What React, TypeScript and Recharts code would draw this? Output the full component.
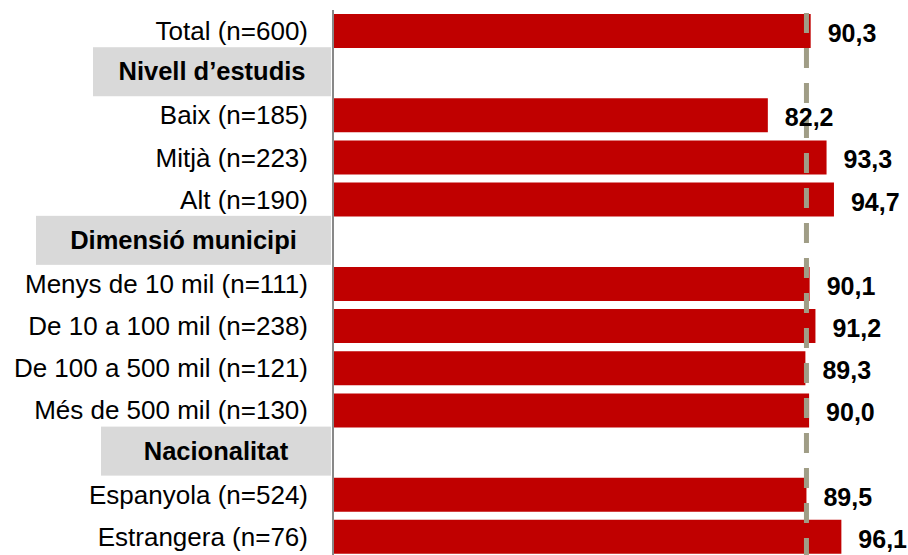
import { BarChart, Bar, XAxis, YAxis, ReferenceLine, LabelList } from "recharts";

const categories = [
  "Total (n=600)",
  "Nivell d’estudis",
  "Baix (n=185)",
  "Mitjà (n=223)",
  "Alt (n=190)",
  "Dimensió municipi",
  "Menys de 10 mil (n=111)",
  "De 10 a 100 mil (n=238)",
  "De 100 a 500 mil (n=121)",
  "Més de 500 mil (n=130)",
  "Nacionalitat",
  "Espanyola (n=524)",
  "Estrangera (n=76)",
];
const values: (number | null)[] = [90.3, null, 82.2, 93.3, 94.7, null, 90.1, 91.2, 89.3, 90.0, null, 89.5, 96.1];
const headers = ["Nivell d’estudis", "Dimensió municipi", "Nacionalitat"];
const referenceValue = 89.5;

// left edge of the grey header boxes (they all run up to the axis)
const headerBoxLeft: Record<string, number> = {
  "Nivell d’estudis": 93,
  "Dimensió municipi": 36,
  "Nacionalitat": 101,
};

const data = categories.map((name, i) => ({ name, value: values[i] }));

const FONT = "'Liberation Sans', Arial, sans-serif";
const AXIS_X = 333;
const LABEL_RIGHT = 308;

function CategoryTick(props: any) {
  const { y, payload } = props;
  const label = payload.value as string;
  if (headers.includes(label)) {
    const left = headerBoxLeft[label];
    return (
      <g>
        <rect x={left} y={y - 26} width={AXIS_X - 2 - left} height={49} fill="#d9d9d9" />
        <text
          x={(left + AXIS_X - 2) / 2}
          y={y - 2}
          textAnchor="middle"
          dominantBaseline="central"
          fontFamily={FONT}
          fontSize={25.5}
          fontWeight="bold"
          fill="#000"
        >
          {label}
        </text>
      </g>
    );
  }
  return (
    <text
      x={LABEL_RIGHT}
      y={y}
      textAnchor="end"
      dominantBaseline="central"
      fontFamily={FONT}
      fontSize={26}
      fill="#000"
    >
      {label}
    </text>
  );
}

function ValueLabel(props: any) {
  const { x, y, width, height, value } = props;
  if (value === null || value === undefined) return null;
  return (
    <text
      x={x + width + 17}
      y={y + height / 2 + 2}
      dominantBaseline="central"
      fontFamily={FONT}
      fontSize={25}
      fontWeight="bold"
      fill="#000"
    >
      {Number(value).toFixed(1).replace(".", ",")}
    </text>
  );
}

export default function App() {
  return (
    <div style={{ position: "absolute", left: 0, top: 0 }}>
      <BarChart
        width={908}
        height={559}
        data={data}
        layout="vertical"
        margin={{ top: 10, right: 46, left: 0, bottom: 1 }}
      >
        <XAxis type="number" domain={[0, 100]} hide />
        <YAxis
          type="category"
          dataKey="name"
          width={AXIS_X}
          tickLine={false}
          axisLine={{ stroke: "#888888", strokeWidth: 2 }}
          tick={<CategoryTick />}
          interval={0}
        />
        <Bar dataKey="value" fill="#c00000" barSize={34} isAnimationActive={false}>
          <LabelList dataKey="value" content={<ValueLabel />} />
        </Bar>
        <ReferenceLine
          x={referenceValue}
          stroke="#a09d86"
          strokeWidth={5}
          strokeDasharray="20 15"
        />
      </BarChart>
    </div>
  );
}
